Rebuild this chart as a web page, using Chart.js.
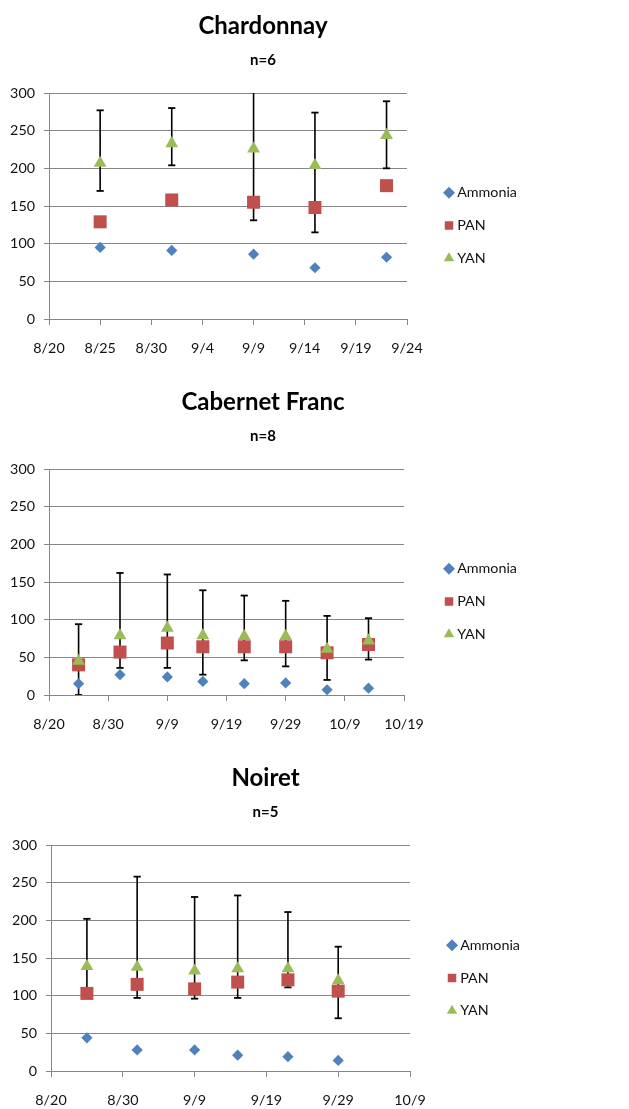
<!DOCTYPE html>
<html><head><meta charset="utf-8">
<script src="https://cdn.jsdelivr.net/npm/chart.js@4.4.1/dist/chart.umd.min.js"></script>
<style>
html,body{margin:0;padding:0;background:#fff;width:629px;height:1109px;overflow:hidden;position:relative}
canvas{position:absolute;display:block}
</style></head><body>
<canvas id="c1" width="526" height="357" style="left:0px;top:0px"></canvas>
<canvas id="c2" width="526" height="357" style="left:0px;top:376px"></canvas>
<canvas id="c3" width="527" height="357" style="left:2px;top:752px"></canvas>
<script>
// ---------- data ----------
const seriesNames = ['Ammonia', 'PAN', 'YAN'];

const chardTitle = 'Chardonnay', chardN = 'n=6';
const chardDates = ['8/25', '9/1', '9/9', '9/15', '9/22'];
const chardAmmonia = [95, 91, 86, 68, 82];
const chardPAN = [129, 158, 155, 148, 177];
const chardYAN = [207, 233, 226, 204, 244];
const chardYANHigh = [277, 280, 320, 274, 289];
const chardYANLow = [170, 204, 131, 115, 200];
const chardTicks = ['8/20', '8/25', '8/30', '9/4', '9/9', '9/14', '9/19', '9/24'];

const cabTitle = 'Cabernet Franc', cabN = 'n=8';
const cabDates = ['8/25', '9/1', '9/9', '9/15', '9/22', '9/29', '10/6', '10/13'];
const cabAmmonia = [15, 27, 24, 18, 15, 16, 7, 9];
const cabPAN = [40, 57, 69, 64, 64, 64, 56, 67];
const cabYAN = [45, 79, 89, 79, 78, 78, 61, 72];
const cabYANHigh = [94, 162, 160, 139, 132, 125, 105, 102];
const cabYANLow = [0, 36, 36, 27, 46, 38, 20, 47];
const cabTicks = ['8/20', '8/30', '9/9', '9/19', '9/29', '10/9', '10/19'];

const noirTitle = 'Noiret', noirN = 'n=5';
const noirDates = ['8/25', '9/1', '9/9', '9/15', '9/22', '9/29'];
const noirAmmonia = [44, 28, 28, 21, 19, 14];
const noirPAN = [103, 115, 109, 118, 121, 106];
const noirYAN = [139, 138, 133, 136, 136, 120];
const noirYANHigh = [202, 258, 231, 233, 211, 165];
const noirYANLow = [104, 97, 96, 97, 111, 70];
const noirTicks = ['8/20', '8/30', '9/9', '9/19', '9/29', '10/9'];

const yMin = 0, yMax = 300, yStep = 50;

// ---------- helpers ----------
function dayNum(s) { // days after 8/20
  const [m, d] = s.split('/').map(Number);
  if (m === 8) return d - 20;
  if (m === 9) return d + 11;
  return d + 41;
}
function pts(dates, vals) { return dates.map((d, i) => ({x: dayNum(d), y: vals[i]})); }
function errPts(dates, lo, hi) {
  const out = [];
  dates.forEach((d, i) => { const x = dayNum(d); out.push({x, y: lo[i]}, {x, y: hi[i]}, {x, y: null}); });
  return out;
}

const legendPlace = {
  id: 'legendPlace',
  afterInit(chart, args, o) {
    const lg = chart.legend;
    const fit = lg.fit;
    lg.fit = function () { fit.call(this); this.width = o.width; };
  },
  afterLayout(chart, args, o) {
    const lg = chart.legend;
    const w = lg.width, h = lg.height;
    lg.left = o.left; lg.right = o.left + w;
    lg.top = o.top; lg.bottom = o.top + h;
  }
};

const GRID = '#868686';
const FONT = 'Lato';
const TXT = '#111';

function makeChart(id, p) {
  const xMax = dayNum(p.ticks[p.ticks.length - 1]);
  new Chart(document.getElementById(id), {
    type: 'scatter',
    data: {
      datasets: [
        {label: seriesNames[0], data: pts(p.dates, p.amm), pointStyle: 'rectRot', pointRadius: 5.6,
         backgroundColor: '#4F81BD', borderColor: '#4F81BD', pointBorderWidth: 0, borderWidth: 0, order: 3},
        {label: seriesNames[1], data: pts(p.dates, p.pan), pointStyle: 'rect', pointRadius: 9.2,
         backgroundColor: '#C0504D', borderColor: '#C0504D', pointBorderWidth: 0, borderWidth: 0, order: 2},
        {label: seriesNames[2], data: pts(p.dates, p.yan), pointStyle: 'triangle', pointRadius: 7.4,
         backgroundColor: '#9BBB59', borderColor: '#9BBB59', pointBorderWidth: 0, borderWidth: 0, order: 1},
        {label: 'err', data: errPts(p.dates, p.lo, p.hi), showLine: true, spanGaps: false,
         borderColor: '#000', borderWidth: 1.6, pointStyle: 'line', pointRadius: 3.6,
         pointBorderColor: '#000', pointBorderWidth: 1.8, backgroundColor: '#000', order: 4}
      ]
    },
    options: {
      responsive: false,
      animation: false,
      layout: {padding: 0},
      scales: {
        x: {
          type: 'linear', min: 0, max: xMax, offset: false,
          afterFit(s) { s.height = 38; },
          ticks: {stepSize: p.step, autoSkip: false, maxRotation: 0, padding: 14, color: TXT,
                  font: {family: FONT, size: 14.3, lineHeight: '18px'},
                  callback: (v, i) => p.ticks[i]},
          grid: {drawOnChartArea: false, drawTicks: true, tickLength: 6, color: GRID},
          border: {display: true, color: GRID, width: 1}
        },
        y: {
          min: yMin, max: yMax,
          afterFit(s) { s.width = p.yw; },
          ticks: {stepSize: yStep, padding: 9, color: TXT, font: {family: FONT, size: 14.3}},
          grid: {color: GRID, tickLength: 5, drawTicks: true},
          border: {display: true, color: GRID, width: 1}
        }
      },
      plugins: {
        title: {display: true, text: p.title, color: '#000',
                font: {family: FONT, size: 24, weight: 'bold', lineHeight: '27px'},
                padding: {top: 13, bottom: 5}},
        subtitle: {display: true, text: p.n, color: '#000',
                   font: {family: FONT, size: 15, weight: 'bold', lineHeight: '15px'},
                   padding: {top: 7.5, bottom: 25.5}},
        legend: {display: true, position: 'right', fullSize: false, align: 'start',
                 labels: {usePointStyle: true, boxWidth: 2, boxHeight: 8.5, padding: 18.5, color: TXT,
                          font: {family: FONT, size: 14.3},
                          filter: (item) => item.datasetIndex < 3,
                          sort: (a, b) => a.datasetIndex - b.datasetIndex}},
        tooltip: {enabled: false},
        legendPlace: {width: p.lw, left: p.ll, top: p.lt}
      }
    },
    plugins: [legendPlace]
  });
}

makeChart('c1', {title: chardTitle, n: chardN, dates: chardDates, amm: chardAmmonia, pan: chardPAN, yan: chardYAN,
  hi: chardYANHigh, lo: chardYANLow, ticks: chardTicks, step: 5, yw: 49, lw: 119, ll: 429.5, lt: 167});
makeChart('c2', {title: cabTitle, n: cabN, dates: cabDates, amm: cabAmmonia, pan: cabPAN, yan: cabYAN,
  hi: cabYANHigh, lo: cabYANLow, ticks: cabTicks, step: 10, yw: 49, lw: 122, ll: 429.5, lt: 167});
makeChart('c3', {title: noirTitle, n: noirN, dates: noirDates, amm: noirAmmonia, pan: noirPAN, yan: noirYAN,
  hi: noirYANHigh, lo: noirYANLow, ticks: noirTicks, step: 10, yw: 49, lw: 119, ll: 430.5, lt: 167.5});
</script>
</body></html>
